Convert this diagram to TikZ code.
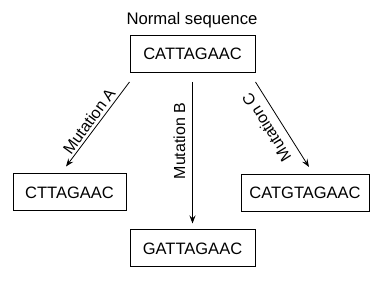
\documentclass[tikz,border=0pt]{standalone}
\usepackage{fontspec}
\setmainfont{Liberation Sans}
\usetikzlibrary{arrows.meta}
\begin{document}
\begin{tikzpicture}[x=1pt,y=-1pt,
  seqbox/.style={draw=black, line width=1pt, minimum height=37pt, inner sep=0pt, font=\fontsize{16.5}{19}\selectfont},
  lbl/.style={inner sep=0pt, font=\fontsize{16}{19}\selectfont},
  arr/.style={line width=0.8pt, -{Stealth[length=8pt,width=6pt,inset=3pt]}}]
\useasboundingbox (0,0) rectangle (386,283);
\node[lbl, font=\fontsize{16.7}{19}\selectfont] (normal) at (192,20) {Normal sequence};
\node[seqbox, minimum width=125pt] (top) at (192.5,54) {CATTAGAAC};
\node[seqbox, minimum width=113pt] (left) at (69.5,192.5) {CTTAGAAC};
\node[seqbox, minimum width=128pt] (right) at (305,193) {CATGTAGAAC};
\node[seqbox, minimum width=125pt] (bottom) at (192.5,248.5) {GATTAGAAC};
\draw[arr] ([yshift=-9pt]top.south west) -- ([xshift=-3.5pt,yshift=7pt]left.north);
\draw[arr] ([yshift=-9pt]top.south) -- ([yshift=6pt]bottom.north);
\draw[arr] ([yshift=-9pt]top.south east) -- ([xshift=4pt,yshift=7pt]right.north);
\node[lbl, rotate=53.8] (la) at (89,121) {Mutation A};
\node[lbl, rotate=90] (lb) at (179.5,141) {Mutation B};
\node[lbl, rotate=122] (lc) at (266.5,127.5) {Mutation C};
\end{tikzpicture}
\end{document}
